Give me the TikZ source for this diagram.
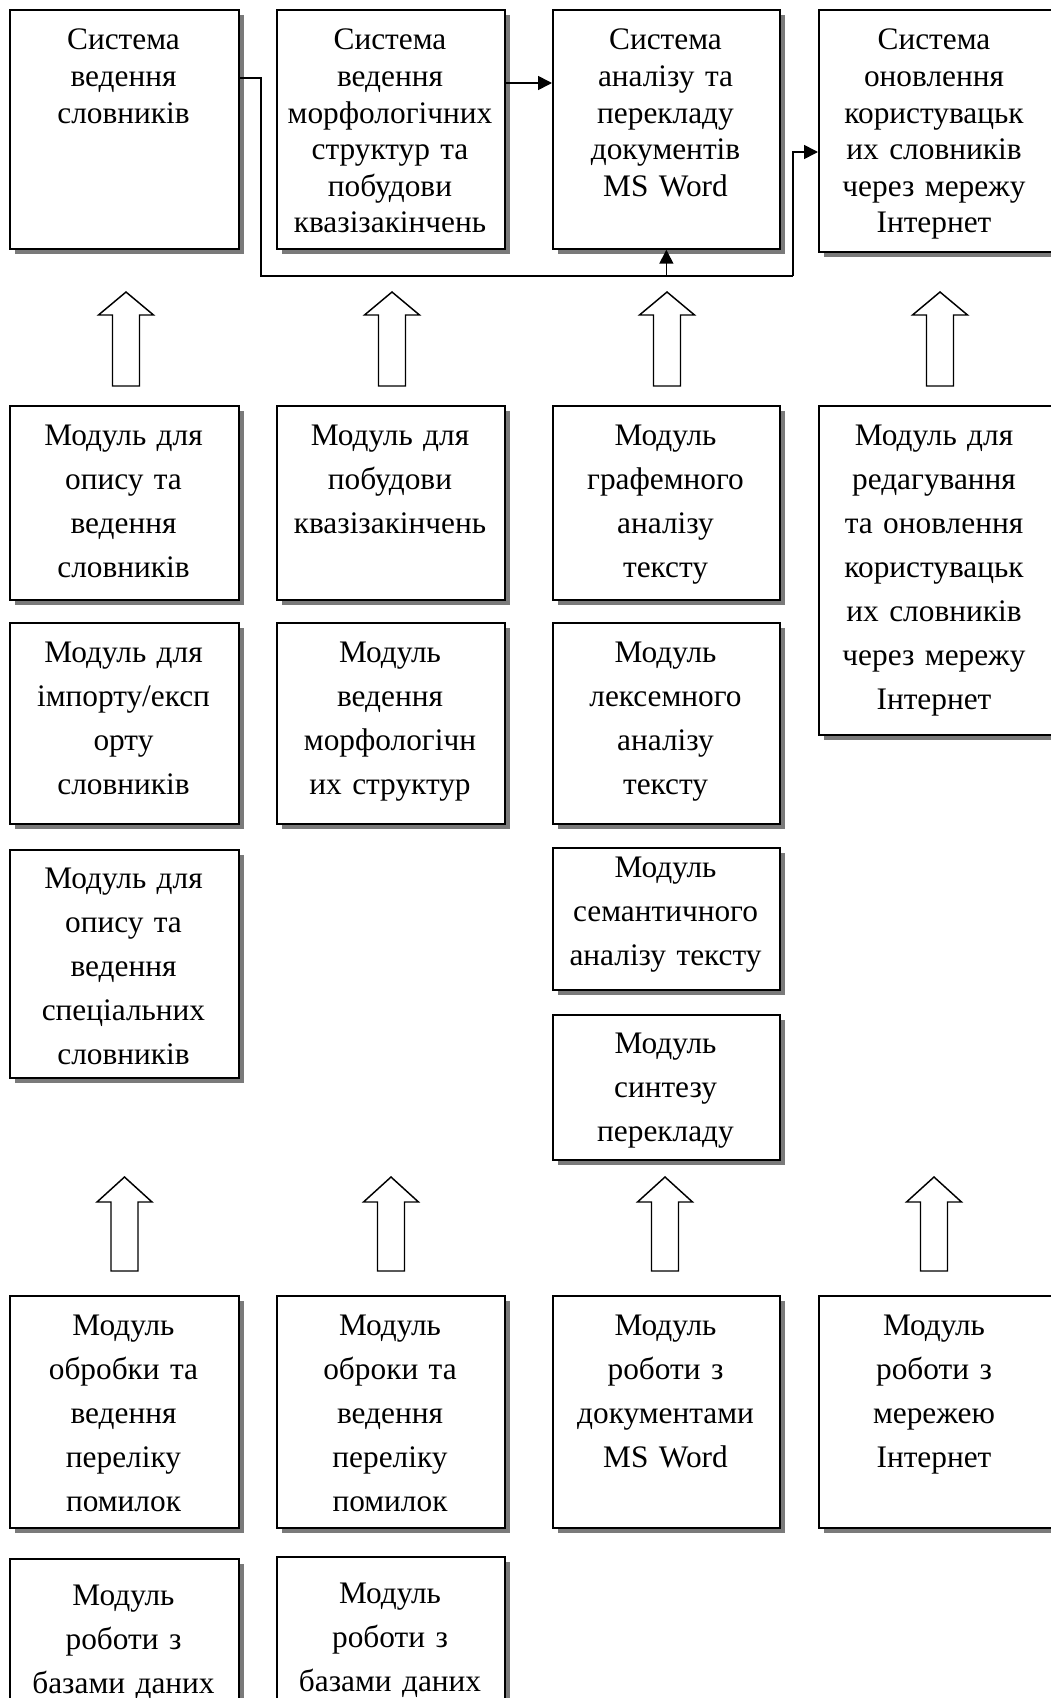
\documentclass[tikz,border=0pt]{standalone}
\usepackage{fontspec}
\setmainfont{Liberation Serif}
\usetikzlibrary{calc,arrows.meta}
\definecolor{shadowc}{HTML}{7A7A7A}
\tikzset{
  boxst/.style={draw=black, line width=1.3pt, fill=white, inner sep=0pt},
  txtst/.style={inner sep=0pt, text width=330*0.75pt, align=center},
  fbig/.style={font={\fontsize{23.5pt}{33pt}\selectfont}},
  ftop/.style={font={\fontsize{23.5pt}{27.4pt}\selectfont}},
  conn/.style={line width=1.2pt},
  tip/.style={-{Triangle[length=10.5pt,width=10.5pt]}},
  harrow/.style={draw=black, line width=1.1pt, fill=white, line join=miter}
}
% name, x1, y1, x2, y2, x text, base y, font style, text
\newcommand{\mkbox}[9]{%
  \fill[shadowc] ({#2+6},{#3+6}) rectangle ({#4+6},{#5+6});
  \node[boxst, anchor=north west, minimum width={(#4-#2)*0.75pt}, minimum height={(#5-#3)*0.75pt}] (#1) at (#2,#3) {};
  \node[txtst, #8, anchor=base] (#1t) at (#6,#7) {#9};
}
% x, tip y, head base y, bottom y
\newcommand{\hollowup}[4]{%
  \draw[harrow] (#1,#2) -- ({#1+27.5},#3) -- ({#1+13.5},#3) -- ({#1+13.5},#4) -- ({#1-13.5},#4) -- ({#1-13.5},#3) -- ({#1-27.5},#3) -- cycle;
}
\begin{document}
\begin{tikzpicture}[x=0.75pt,y=-0.75pt]
\useasboundingbox (0,0) rectangle (1050,1698);
% Row 1 systems
\mkbox{s1}{9}{9}{238}{248}{123.5}{50}{ftop}{Система\\ведення\\словників}
\mkbox{s2}{276}{9}{504}{248}{390}{50}{ftop}{Система\\ведення\\морфологічних\\структур та\\побудови\\квазізакінчень}
\mkbox{s3}{552}{9}{779}{248}{665.5}{50}{ftop}{Система\\аналізу та\\перекладу\\документів\\MS Word}
\mkbox{s4}{818}{9}{1060}{251}{934}{50}{ftop}{Система\\оновлення\\користувацьк\\их словників\\через мережу\\Інтернет}
% connectors
\coordinate (jn) at (793,276);
\draw[conn] ($(s1.north east)+(0,69)$) -- ++(21,0) |- (jn);
\draw[conn,tip] (jn) |- ($(s4.north west)+(0,143)$);
\draw[conn,tip] (s3.south |- jn) -- (s3.south);
\draw[conn,tip] ($(s2.north east)+(0,74)$) -- ($(s3.north west)+(0,74)$);
% upper hollow arrows
\hollowup{126}{292}{315}{386}
\hollowup{392}{292}{315}{386}
\hollowup{667}{292}{315}{386}
\hollowup{940}{292}{315}{386}
% Row 2
\mkbox{m11}{9}{405}{238}{599}{123.5}{445}{fbig}{Модуль для\\опису та\\ведення\\словників}
\mkbox{m12}{276}{405}{504}{599}{390}{445}{fbig}{Модуль для~\\побудови\\квазізакінчень}
\mkbox{m13}{552}{405}{779}{599}{665.5}{445}{fbig}{Модуль\\графемного\\аналізу\\тексту}
\mkbox{m14}{818}{405}{1060}{734}{934}{445}{fbig}{Модуль для\\редагування\\та оновлення\\користувацьк\\их словників\\через мережу\\Інтернет}
% Row 3
\mkbox{m21}{9}{622}{238}{823}{123.5}{662}{fbig}{Модуль для\\імпорту/експ\\орту\\словників}
\mkbox{m22}{276}{622}{504}{823}{390}{662}{fbig}{Модуль\\ведення\\морфологічн\\их структур}
\mkbox{m23}{552}{622}{779}{823}{665.5}{662}{fbig}{Модуль\\лексемного\\аналізу\\тексту}
% Row 4-5
\mkbox{m31}{9}{849}{238}{1077}{123.5}{888}{fbig}{Модуль для\\опису та\\ведення\\спеціальних\\словників}
\mkbox{m33}{552}{847}{779}{989}{665.5}{877}{fbig}{Модуль\\семантичного\\аналізу тексту}
\mkbox{m43}{552}{1014}{779}{1159}{665.5}{1053}{fbig}{Модуль\\синтезу\\перекладу}
% lower hollow arrows
\hollowup{124.5}{1177}{1202}{1271}
\hollowup{391}{1177}{1202}{1271}
\hollowup{665}{1177}{1202}{1271}
\hollowup{934}{1177}{1202}{1271}
% Row 6
\mkbox{b1}{9}{1295}{238}{1527}{123.5}{1335}{fbig}{Модуль~\\обробки та\\ведення\\переліку\\помилок}
\mkbox{b2}{276}{1295}{504}{1527}{390}{1335}{fbig}{Модуль\\оброки та\\ведення\\переліку\\помилок}
\mkbox{b3}{552}{1295}{779}{1527}{665.5}{1335}{fbig}{Модуль\\роботи з\\документами\\MS Word}
\mkbox{b4}{818}{1295}{1060}{1527}{934}{1335}{fbig}{Модуль\\роботи з\\мережею\\Інтернет}
% Row 7
\mkbox{d1}{9}{1558}{238}{1730}{123.5}{1605}{fbig}{Модуль\\роботи з\\базами даних}
\mkbox{d2}{276}{1556}{504}{1730}{390}{1603}{fbig}{Модуль\\роботи з\\базами даних}
\end{tikzpicture}
\end{document}
